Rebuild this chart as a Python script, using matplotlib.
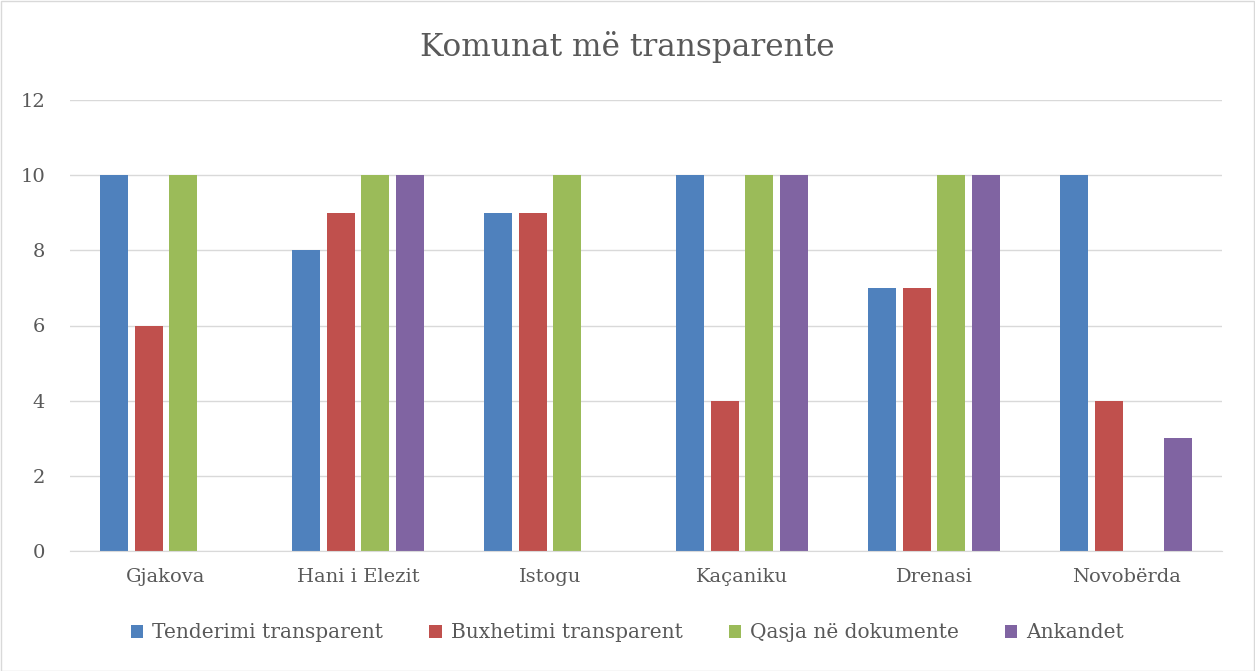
import matplotlib
matplotlib.use("Agg")
import matplotlib.pyplot as plt
import numpy as np
from matplotlib.patches import Rectangle

categories = ["Gjakova", "Hani i Elezit", "Istogu", "Kaçaniku", "Drenasi", "Novobërda"]
series_names = ["Tenderimi transparent", "Buxhetimi transparent", "Qasja në dokumente", "Ankandet"]
tenderimi = [10, 8, 9, 10, 7, 10]
buxhetimi = [6, 9, 9, 4, 7, 4]
qasja = [10, 10, 10, 10, 10, 0]
ankandet = [0, 10, 0, 10, 10, 3]
colors = ["#4F81BD", "#C0504D", "#9BBB59", "#8064A2"]
yticks = [0, 2, 4, 6, 8, 10, 12]

plt.rcParams['font.family'] = ['DejaVu Serif']

W, H = 1255, 671
fig = plt.figure(figsize=(W/100, H/100), dpi=100)
ax = fig.add_axes([70/W, 1-551/H, (1222-70)/W, (551-100)/H])

x = np.arange(len(categories))
bw = 0.146
step = 0.182
data = [tenderimi, buxhetimi, qasja, ankandet]
for i, (vals, name, c) in enumerate(zip(data, series_names, colors)):
    ax.bar(x + (i-1.5)*step, vals, width=bw, color=c, label=name, zorder=3)

ax.set_xlim(-0.5, len(categories)-0.5)
ax.set_ylim(0, 12)
ax.set_yticks(yticks)
ax.set_xticks(x)
ax.set_xticklabels(categories, fontsize=14, color="#595959")
ax.tick_params(axis='y', labelsize=14, labelcolor="#595959", length=0, pad=18)
ax.tick_params(axis='x', length=0, pad=12)
ax.grid(axis='y', color="#D9D9D9", linewidth=1, zorder=0)
for s in ["top", "right", "left"]:
    ax.spines[s].set_visible(False)
ax.spines["bottom"].set_color("#D9D9D9")
ax.spines["bottom"].set_zorder(4)

fig.text(0.5, 1-47/H, "Komunat më transparente", ha="center", va="center",
         fontsize=22.5, color="#595959")

leg = fig.legend(loc="center", bbox_to_anchor=(0.5, 1-633/H), ncol=4, frameon=False,
                 fontsize=14.5, handlelength=0.6, handleheight=0.6, columnspacing=2.3,
                 handletextpad=0.45)
for t in leg.get_texts():
    t.set_color("#595959")

fig.patches.append(Rectangle((0.5/W, 0.5/H), 1-1.5/W, 1-1.5/H, transform=fig.transFigure,
                             fill=False, edgecolor="#D9D9D9", linewidth=1))

fig.savefig("out.png", dpi=100)
